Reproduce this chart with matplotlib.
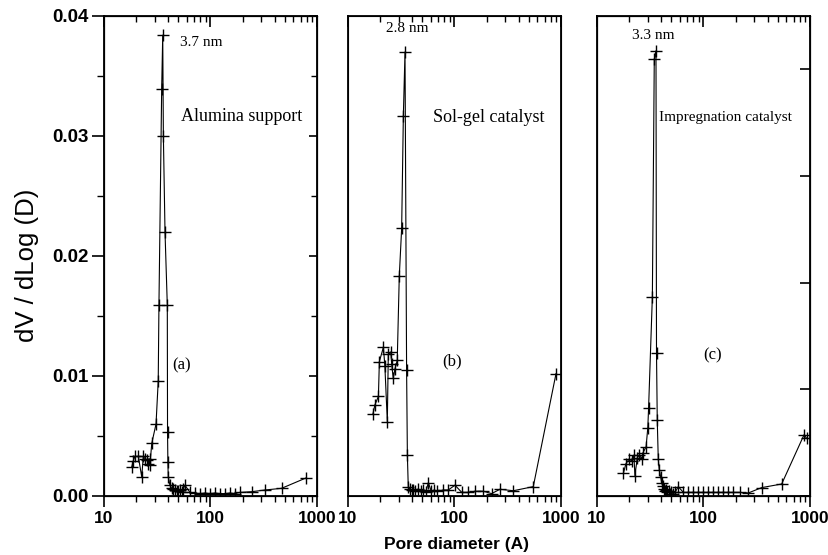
import numpy as np
import matplotlib
matplotlib.use("Agg")
import matplotlib.pyplot as plt
from matplotlib.ticker import MultipleLocator, NullFormatter, NullLocator

# pore diameter (A) and dV/dLog(D)
d_a = [18.2, 18.8, 19.5, 21.0, 22.6, 23.4, 24.3, 25.2, 26.1, 26.9, 27.0, 28.1, 30.8,
       32.3, 32.8, 34.8, 35.6, 36.1, 37.4, 39.3, 39.5, 39.8, 40.1, 41.6, 43.2, 44.8,
       46.4, 48.1, 49.8, 51.7, 53.5, 55.5, 57.5, 64.2, 71.6, 79.7, 88.7, 98.9, 110,
       123, 137, 152, 170, 189, 244, 325, 465, 787]
v_a = [0.0024, 0.0029, 0.0033, 0.0033, 0.0016, 0.0033, 0.0031, 0.0030, 0.0027, 0.0031,
       0.0026, 0.0044, 0.0060, 0.0096, 0.0159, 0.0339, 0.0384, 0.0300, 0.0220, 0.0159,
       0.0053, 0.0028, 0.0016, 0.0009, 0.00064, 0.00056, 0.00047, 0.0004, 0.0004,
       0.00047, 0.0003, 0.00056, 0.0009, 0.0003, 0.00025, 0.0002, 0.00025, 0.0002,
       0.00025, 0.0002, 0.0002, 0.00025, 0.0002, 0.0003, 0.00036, 0.0005, 0.00064, 0.0015]

d_b = [17.1, 17.9, 19.3, 19.7, 21.5, 22.2, 23.4, 23.9, 25.2, 25.7, 26.6, 27.6, 29.0,
       30.3, 31.9, 33.1, 34.3, 35.5, 36.1, 36.8, 38.0, 39.5, 41.1, 43.0, 45.7, 48.0,
       50.9, 53.5, 56.8, 60.5, 64.5, 69.0, 78.5, 87.4, 101, 117, 135, 156, 186, 223,
       267, 357, 549, 898]
v_b = [0.0068, 0.0076, 0.0083, 0.0112, 0.0124, 0.0108, 0.0062, 0.0118, 0.0120, 0.0110,
       0.0098, 0.0106, 0.0113, 0.0183, 0.0223, 0.0317, 0.0370, 0.0105, 0.0034, 0.00078,
       0.0006, 0.0005, 0.0005, 0.0004, 0.0006, 0.0004, 0.0005, 0.0003, 0.0011, 0.0004,
       0.0005, 0.0004, 0.0005, 0.0005, 0.0009, 0.0003, 0.0003, 0.0004, 0.0004, 0.0002,
       0.00056, 0.00044, 0.00078, 0.0102]

d_c = [17.7, 18.7, 20.1, 21.2, 22.2, 22.7, 23.9, 25.0, 26.3, 27.0, 28.9, 30.0, 30.5,
       33.1, 34.5, 35.8, 36.2, 36.8, 37.6, 38.4, 39.6, 40.5, 41.5, 42.5, 43.5, 44.6,
       45.7, 47.0, 48.5, 50.0, 52.0, 54.0, 58.0, 64.6, 72.0, 80.2, 89.4, 99.6, 111,
       124, 137, 153, 171, 190, 219, 263, 352, 542, 879, 931]
v_c = [0.0019, 0.0027, 0.0031, 0.0029, 0.0034, 0.0017, 0.0032, 0.0034, 0.0031, 0.0036,
       0.0041, 0.0057, 0.0073, 0.0166, 0.0364, 0.0371, 0.0119, 0.0063, 0.0031, 0.0022,
       0.0016, 0.0011, 0.0008, 0.0006, 0.0004, 0.0005, 0.0003, 0.0004, 0.0002, 0.0003,
       0.0002, 0.0003, 0.00078, 0.0003, 0.0003, 0.0003, 0.0003, 0.0003, 0.0003, 0.0003,
       0.0003, 0.0003, 0.0003, 0.0003, 0.0003, 0.00025, 0.0007, 0.0010, 0.0051, 0.0048]

x_ticks = [10, 100, 1000]
x_ticklabels = ["10", "100", "1000"]
y_ticks = [0.0, 0.01, 0.02, 0.03, 0.04]

peak_labels = ["3.7 nm", "2.8 nm", "3.3 nm"]
sample_names = ["Alumina support", "Sol-gel catalyst", "Impregnation catalyst"]
panel_tags = ["(a)", "(b)", "(c)"]

SANS = "Liberation Sans"
SERIF = "Liberation Serif"

fig = plt.figure(figsize=(8.29, 5.55), dpi=100)
W, H = 829.0, 555.0
lefts = [104, 348, 597]
pw = 213
bottom_px, top_px = 496, 16

series = [(d_a, v_a), (d_b, v_b), (d_c, v_c)]
axes = []
for i, (d, v) in enumerate(series):
    ax = fig.add_axes([lefts[i] / W, 1 - bottom_px / H, pw / W, (bottom_px - top_px) / H])
    ax.plot(d, v, color="k", lw=0.8, marker="+", ms=9, mew=1.0)
    ax.set_xscale("log")
    ax.set_xlim(10, 1000)
    ax.set_ylim(0, 0.04)
    ax.set_xticks(x_ticks)
    ax.set_xticklabels(x_ticklabels, fontfamily=SANS, fontweight="bold", fontsize=12.5)
    ax.xaxis.set_minor_formatter(NullFormatter())
    ax.tick_params(axis="x", which="major", direction="out", length=8, width=1.2, pad=3)
    ax.tick_params(axis="x", which="minor", direction="out", length=4, width=1.0)
    for s in ax.spines.values():
        s.set_linewidth(1.3)

    # top ticks point inward
    axt = ax.twiny()
    axt.set_xscale("log")
    axt.set_xlim(10, 1000)
    axt.xaxis.set_major_formatter(NullFormatter())
    axt.xaxis.set_minor_formatter(NullFormatter())
    axt.tick_params(axis="x", which="major", direction="in", length=8, width=1.2)
    axt.tick_params(axis="x", which="minor", direction="in", length=4, width=1.0)

    if i == 0:
        ax.set_yticks(y_ticks)
        ax.set_yticklabels(["%.2f" % t for t in y_ticks], fontfamily=SANS,
                           fontweight="bold", fontsize=13.5)
        ax.yaxis.set_minor_locator(MultipleLocator(0.005))
        ax.tick_params(axis="y", which="major", direction="out", length=9, width=1.2, pad=2)
        ax.tick_params(axis="y", which="minor", direction="out", length=5, width=1.0)
        axr = ax.twinx()
        axr.set_ylim(0, 0.04)
        axr.yaxis.set_major_locator(MultipleLocator(0.01))
        axr.yaxis.set_minor_locator(MultipleLocator(0.005))
        axr.yaxis.set_major_formatter(NullFormatter())
        axr.tick_params(axis="y", which="major", direction="in", length=6, width=1.2)
        axr.tick_params(axis="y", which="minor", direction="in", length=4, width=1.0)
    else:
        ax.yaxis.set_major_locator(NullLocator())
        ax.yaxis.set_minor_locator(NullLocator())
    if i == 2:
        axr = ax.twinx()
        axr.set_ylim(0, 0.045)
        axr.yaxis.set_major_locator(MultipleLocator(0.01))
        axr.yaxis.set_minor_locator(NullLocator())
        axr.yaxis.set_major_formatter(NullFormatter())
        axr.tick_params(axis="y", which="major", direction="in", length=7, width=1.2)
    axes.append(ax)

# annotations
a, b, c = axes
a.text(51.7, 0.0378, peak_labels[0], family=SERIF, fontsize=11, va="center", ha="left")
a.text(53, 0.0316, sample_names[0], family=SERIF, fontsize=13, va="center", ha="left")
a.text(53, 0.0109, panel_tags[0], family=SERIF, fontsize=12, va="center", ha="center")

b.text(35.8, 0.0390, peak_labels[1], family=SERIF, fontsize=11, va="center", ha="center")
b.text(63, 0.0315, sample_names[1], family=SERIF, fontsize=13, va="center", ha="left")
b.text(94.8, 0.0112, panel_tags[1], family=SERIF, fontsize=12, va="center", ha="center")

c.text(33.6, 0.0384, peak_labels[2], family=SERIF, fontsize=11, va="center", ha="center")
c.text(38.2, 0.0315, sample_names[2], family=SERIF, fontsize=11, va="center", ha="left")
c.text(122.8, 0.01175, panel_tags[2], family=SERIF, fontsize=12, va="center", ha="center")

fig.text(457 / W, 1 - 545 / H, "Pore diameter (A)", family=SANS, fontweight="bold",
         fontsize=12.5, ha="center", va="center")
fig.text(27 / W, 1 - 265 / H, "dV / dLog (D)", family=SANS, fontsize=18.5,
         rotation=90, ha="center", va="center")

fig.savefig("out.png", dpi=100)
